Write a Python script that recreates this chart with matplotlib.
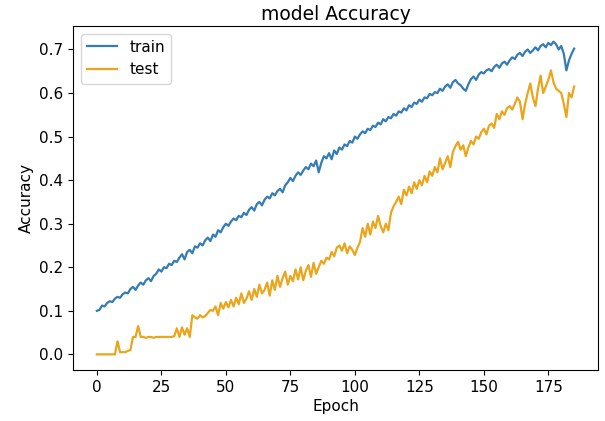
import numpy as np
import matplotlib
matplotlib.use("Agg")
import matplotlib.pyplot as plt

train_acc = [
    0.100, 0.102, 0.112, 0.110, 0.118, 0.122, 0.120, 0.128, 0.132, 0.130,
    0.138, 0.142, 0.140, 0.150, 0.155, 0.148, 0.158, 0.165, 0.160, 0.170,
    0.175, 0.168, 0.180, 0.185, 0.195, 0.190, 0.200, 0.198, 0.208, 0.205,
    0.215, 0.212, 0.222, 0.230, 0.218, 0.235, 0.240, 0.232, 0.248, 0.245,
    0.255, 0.250, 0.262, 0.268, 0.260, 0.275, 0.270, 0.285, 0.280, 0.292,
    0.300, 0.295, 0.305, 0.312, 0.308, 0.318, 0.315, 0.325, 0.320, 0.332,
    0.338, 0.330, 0.345, 0.350, 0.342, 0.355, 0.362, 0.358, 0.370, 0.365,
    0.375, 0.380, 0.372, 0.388, 0.395, 0.405, 0.398, 0.410, 0.418, 0.412,
    0.422, 0.430, 0.425, 0.438, 0.432, 0.445, 0.418, 0.440, 0.455, 0.450,
    0.462, 0.448, 0.468, 0.460, 0.475, 0.470, 0.482, 0.478, 0.490, 0.486,
    0.500, 0.495, 0.505, 0.512, 0.508, 0.518, 0.515, 0.525, 0.522, 0.532,
    0.528, 0.540, 0.535, 0.545, 0.542, 0.552, 0.548, 0.558, 0.555, 0.565,
    0.560, 0.572, 0.568, 0.578, 0.575, 0.585, 0.580, 0.590, 0.588, 0.598,
    0.595, 0.602, 0.600, 0.610, 0.605, 0.615, 0.620, 0.612, 0.625, 0.630,
    0.622, 0.618, 0.610, 0.605, 0.620, 0.632, 0.638, 0.630, 0.642, 0.648,
    0.645, 0.652, 0.655, 0.650, 0.660, 0.665, 0.658, 0.668, 0.672, 0.665,
    0.675, 0.682, 0.678, 0.688, 0.692, 0.685, 0.695, 0.700, 0.692, 0.698,
    0.705, 0.698, 0.708, 0.712, 0.705, 0.715, 0.710, 0.718, 0.712, 0.700,
    0.708, 0.690, 0.652, 0.675, 0.690, 0.702,
]

test_acc = [
    0.000, 0.000, 0.000, 0.000, 0.000, 0.000, 0.000, 0.000, 0.030, 0.005,
    0.005, 0.005, 0.008, 0.010, 0.040, 0.040, 0.065, 0.040, 0.040, 0.038,
    0.040, 0.040, 0.038, 0.040, 0.040, 0.040, 0.040, 0.040, 0.040, 0.040,
    0.042, 0.060, 0.040, 0.062, 0.045, 0.060, 0.040, 0.090, 0.085, 0.082,
    0.090, 0.085, 0.088, 0.095, 0.102, 0.100, 0.110, 0.090, 0.118, 0.105,
    0.120, 0.108, 0.125, 0.110, 0.130, 0.115, 0.140, 0.118, 0.128, 0.145,
    0.125, 0.150, 0.132, 0.160, 0.140, 0.148, 0.165, 0.135, 0.170, 0.148,
    0.180, 0.155, 0.175, 0.190, 0.160, 0.180, 0.168, 0.195, 0.172, 0.200,
    0.170, 0.192, 0.205, 0.178, 0.210, 0.185, 0.200, 0.215, 0.208, 0.222,
    0.218, 0.235, 0.225, 0.245, 0.250, 0.238, 0.255, 0.232, 0.248, 0.240,
    0.228, 0.245, 0.258, 0.290, 0.270, 0.300, 0.275, 0.305, 0.290, 0.318,
    0.295, 0.280, 0.300, 0.285, 0.325, 0.340, 0.350, 0.362, 0.345, 0.378,
    0.365, 0.385, 0.370, 0.395, 0.380, 0.400, 0.388, 0.410, 0.395, 0.420,
    0.410, 0.430, 0.418, 0.450, 0.425, 0.440, 0.455, 0.430, 0.465, 0.478,
    0.488, 0.470, 0.480, 0.455, 0.475, 0.490, 0.482, 0.500, 0.495, 0.510,
    0.518, 0.505, 0.525, 0.530, 0.520, 0.552, 0.540, 0.558, 0.550, 0.565,
    0.570, 0.562, 0.575, 0.590, 0.580, 0.540, 0.575, 0.600, 0.622, 0.590,
    0.570, 0.610, 0.640, 0.600, 0.615, 0.630, 0.652, 0.625, 0.610, 0.605,
    0.600, 0.575, 0.545, 0.600, 0.590, 0.615,
]

series_labels = ["train", "test"]
title_text = "model Accuracy"
x_label = "Epoch"
y_label = "Accuracy"

epochs = np.arange(len(train_acc))

plt.rcParams["font.size"] = 11
fig = plt.figure(figsize=(6.05, 4.21), dpi=100)
ax = fig.add_axes([73 / 605, 51 / 421, 525 / 605, 344 / 421])
ax.plot(epochs, train_acc, color="#347cb5", linewidth=1.6, label=series_labels[0])
ax.plot(epochs, test_acc, color="#eba51c", linewidth=1.6, label=series_labels[1])
ax.set_title(title_text, fontsize=13.5, pad=4)
ax.set_xlabel(x_label, labelpad=3)
ax.set_ylabel(y_label, labelpad=4)
ax.set_xticks(np.arange(0, 176, 25))
ax.set_yticks(np.arange(0, 0.71, 0.1))
ax.tick_params(labelsize=11)
ax.legend(loc="upper left", fontsize=11)
fig.savefig("out.png", dpi=100)
